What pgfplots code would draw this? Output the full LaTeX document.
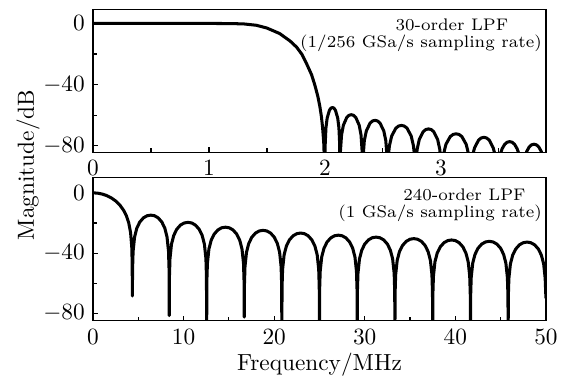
\documentclass[border=0pt]{standalone}
\usepackage{pgfplots}
\pgfplotsset{compat=1.18}
\usetikzlibrary{calc}
\begin{document}
\begin{tikzpicture}
\pgfplotsset{
  every axis/.append style={
    scale only axis, width=194.4pt, height=61.4pt,
    axis line style={line width=0.5pt},
    tick pos=left, tick align=inside,
    major tick length=2pt, minor tick length=1.6pt,
    every tick/.style={black, line width=0.5pt},
    ytick={-80,-40,0}, minor ytick={-60,-20},
  },
}
\begin{axis}[name=top, at={(0,0)}, anchor=north west,
  xmin=0, xmax=3.906, ymin=-84.2, ymax=9.4,
  xtick={0,1,2,3}, minor xtick={0.5,1.5,2.5,3.5}]
\addplot[black, line width=1.3pt, line join=round] coordinates {
(0,0) (0.5,0) (1.0,0) (1.1,-0.03) (1.2,-0.1) (1.3,-0.3) (1.41,-1.2) (1.5,-3.0) (1.61,-6.6) (1.7,-11.5) (1.756,-15.5) (1.8,-20) (1.84,-26) (1.885,-33.5) (1.914,-40.5) (1.94,-48) (1.957,-54.5) (1.97,-61) (1.98,-68) (1.99,-78) (2.0,-100)
(2.0026,-79.0) (2.0091,-68.2) (2.0195,-61.9) (2.039,-56.8) (2.052,-55.4) (2.065,-55) (2.078,-55.4) (2.091,-56.8) (2.1105,-61.9) (2.1209,-68.2) (2.1274,-79.0) (2.13,-100)
(2.1339,-83.7) (2.1437,-72.9) (2.1593,-66.6) (2.1885,-61.5) (2.208,-60.1) (2.2275,-59.7) (2.247,-60.1) (2.2665,-61.5) (2.2958,-66.6) (2.3114,-72.9) (2.3211,-83.7) (2.325,-100)
(2.3293,-87.4) (2.3401,-76.6) (2.3573,-70.3) (2.3895,-65.2) (2.411,-63.8) (2.4325,-63.4) (2.454,-63.8) (2.4755,-65.2) (2.5078,-70.3) (2.525,-76.6) (2.5357,-87.4) (2.54,-100)
(2.5496,-84.7) (2.5568,-79.9) (2.576,-73.6) (2.612,-68.5) (2.636,-67.1) (2.66,-66.7) (2.684,-67.1) (2.708,-68.5) (2.744,-73.6) (2.7632,-79.9) (2.7704,-84.7) (2.78,-100)
(2.789,-87.0) (2.7958,-82.2) (2.8139,-75.9) (2.8478,-70.8) (2.870,-69.4) (2.893,-69) (2.916,-69.4) (2.9382,-70.8) (2.9721,-75.9) (2.9902,-82.2) (2.997,-87.0) (3.006,-100)
(3.0235,-85.4) (3.0435,-79.1) (3.081,-74.0) (3.106,-72.6) (3.131,-72.2) (3.156,-72.6) (3.181,-74.0) (3.2185,-79.1) (3.2385,-85.4) (3.256,-100)
(3.2721,-87.7) (3.279,-84.7) (3.2905,-81.4) (3.325,-76.3) (3.348,-74.9) (3.371,-74.5) (3.394,-74.9) (3.417,-76.3) (3.4515,-81.4) (3.463,-84.7) (3.4699,-87.7) (3.486,-100)
(3.5074,-87.5) (3.5181,-84.2) (3.5288,-81.9) (3.5502,-79.1) (3.5716,-77.7) (3.593,-77.3) (3.6144,-77.7) (3.6358,-79.1) (3.6572,-81.9) (3.6679,-84.2) (3.6786,-87.5) (3.70,-100)
(3.7206,-89.2) (3.7309,-85.9) (3.7412,-83.6) (3.7618,-80.8) (3.7824,-79.4) (3.803,-79) (3.8236,-79.4) (3.8442,-80.8) (3.8648,-83.6) (3.8751,-85.9) (3.8854,-89.2) (3.906,-100)
};
\node[font=\fontsize{7.2}{8.6}\selectfont, inner sep=0pt] at (axis cs:3.095,-1.1) {30-order LPF};
\node[font=\fontsize{7.2}{8.6}\selectfont, inner sep=0pt, anchor=east] at (axis cs:3.875,-13.1) {(1/256 GSa/s sampling rate)};
\end{axis}
\begin{axis}[name=bottom, at={($(top.south west)+(0,-11pt)$)}, anchor=north west,
  xmin=0, xmax=50, ymin=-85, ymax=10,
  xtick={0,10,20,30,40,50}, minor xtick={5,15,25,35,45},
  xlabel={Frequency/MHz}, xlabel style={yshift=3pt}]
\addplot[black, line width=1.3pt, line join=round] coordinates {
(0,0) (0.5,-0.19) (1.0,-0.77) (1.5,-1.77) (2.0,-3.26) (2.5,-5.37) (3.0,-8.37) (3.4,-11.77) (3.7,-15.4) (3.95,-20.0) (4.15,-26.3) (4.28,-35.7) (4.33,-46.7) (4.35,-68.5)
(4.370,-50.9) (4.431,-38.8) (4.594,-29.3) (4.838,-23.5) (5.164,-19.4) (5.571,-16.6) (5.978,-15.2) (6.385,-14.8) (6.792,-15.2) (7.199,-16.6) (7.606,-19.4) (7.932,-23.5) (8.176,-29.3) (8.339,-38.8) (8.400,-50.9) (8.42,-81.5)
(8.441,-55.7) (8.503,-43.6) (8.668,-34.1) (8.916,-28.3) (9.246,-24.2) (9.659,-21.4) (10.072,-20.0) (10.485,-19.6) (10.898,-20.0) (11.311,-21.4) (11.724,-24.2) (12.054,-28.3) (12.302,-34.1) (12.467,-43.6) (12.529,-55.7) (12.55,-95)
(12.571,-58.9) (12.633,-46.8) (12.799,-37.3) (13.048,-31.5) (13.38,-27.4) (13.795,-24.6) (14.21,-23.2) (14.625,-22.8) (15.04,-23.2) (15.455,-24.6) (15.87,-27.4) (16.202,-31.5) (16.451,-37.3) (16.617,-46.8) (16.679,-58.9) (16.7,-82.5)
(16.721,-61.0) (16.783,-48.9) (16.949,-39.4) (17.198,-33.6) (17.53,-29.5) (17.945,-26.7) (18.36,-25.3) (18.775,-24.9) (19.19,-25.3) (19.605,-26.7) (20.02,-29.5) (20.352,-33.6) (20.601,-39.4) (20.767,-48.9) (20.829,-61.0) (20.85,-95)
(20.871,-62.8) (20.933,-50.7) (21.099,-41.2) (21.348,-35.4) (21.68,-31.3) (22.095,-28.5) (22.51,-27.1) (22.925,-26.7) (23.34,-27.1) (23.755,-28.5) (24.17,-31.3) (24.502,-35.4) (24.751,-41.2) (24.917,-50.7) (24.979,-62.8) (25,-95)
(25.021,-64.2) (25.083,-52.1) (25.25,-42.6) (25.5,-36.8) (25.834,-32.7) (26.251,-29.9) (26.668,-28.5) (27.085,-28.1) (27.502,-28.5) (27.919,-29.9) (28.336,-32.7) (28.67,-36.8) (28.92,-42.6) (29.087,-52.1) (29.149,-64.2) (29.17,-95)
(29.191,-65.5) (29.253,-53.4) (29.42,-43.9) (29.669,-38.1) (30.002,-34.0) (30.418,-31.2) (30.834,-29.8) (31.25,-29.4) (31.666,-29.8) (32.082,-31.2) (32.498,-34.0) (32.831,-38.1) (33.08,-43.9) (33.247,-53.4) (33.309,-65.5) (33.33,-95)
(33.351,-66.5) (33.413,-54.4) (33.58,-44.9) (33.83,-39.1) (34.164,-35.0) (34.581,-32.2) (34.998,-30.8) (35.415,-30.4) (35.832,-30.8) (36.249,-32.2) (36.666,-35.0) (37.0,-39.1) (37.25,-44.9) (37.417,-54.4) (37.479,-66.5) (37.5,-95)
(37.521,-67.4) (37.583,-55.3) (37.75,-45.8) (38.0,-40.0) (38.334,-35.9) (38.751,-33.1) (39.168,-31.7) (39.585,-31.3) (40.002,-31.7) (40.419,-33.1) (40.836,-35.9) (41.17,-40.0) (41.42,-45.8) (41.587,-55.3) (41.649,-67.4) (41.67,-95)
(41.691,-68.3) (41.753,-56.2) (41.92,-46.7) (42.169,-40.9) (42.502,-36.8) (42.918,-34.0) (43.334,-32.6) (43.75,-32.2) (44.166,-32.6) (44.582,-34.0) (44.998,-36.8) (45.331,-40.9) (45.58,-46.7) (45.747,-56.2) (45.809,-68.3) (45.83,-95)
(45.851,-68.8) (45.913,-56.7) (46.08,-47.2) (46.33,-41.4) (46.664,-37.3) (47.081,-34.5) (47.498,-33.1) (47.915,-32.7) (48.332,-33.1) (48.749,-34.5) (49.166,-37.3) (49.5,-41.4) (49.75,-47.2) (49.917,-56.7) (50,-70)
};
\node[font=\fontsize{7.2}{8.6}\selectfont, inner sep=0pt] at (axis cs:41.0,-1.3) {240-order LPF};
\node[font=\fontsize{7.2}{8.6}\selectfont, inner sep=0pt, anchor=east] at (axis cs:49.6,-13.3) {(1 GSa/s sampling rate)};
\end{axis}
\node[rotate=90] at ($($(top.south west)!0.5!(bottom.north west)$)+(-27.9pt,0)$) {Magnitude/dB};
\path ($(top.north west)+(-39.9pt,3.9pt)$) rectangle ($(top.north west)+(204.3pt,-158.4pt)$);
\end{tikzpicture}
\end{document}
